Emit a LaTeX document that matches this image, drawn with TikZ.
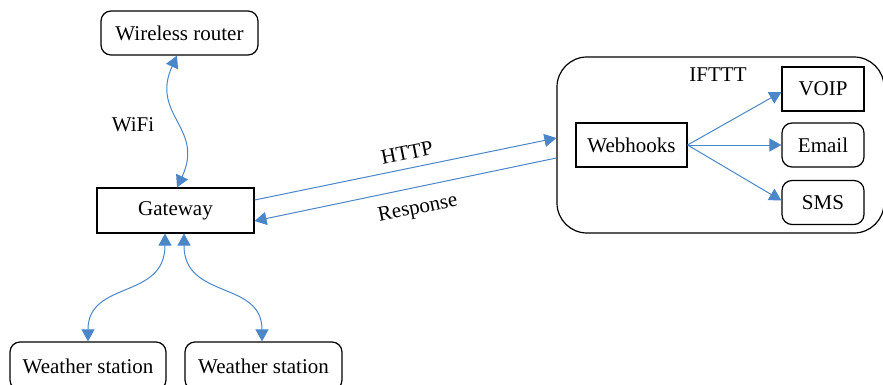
\documentclass[tikz,border=0pt]{standalone}
\usepackage{fontspec}
\setmainfont{Liberation Serif}
\usetikzlibrary{arrows.meta}
\definecolor{linkblue}{RGB}{74,134,200}
\begin{document}
\begin{tikzpicture}[x=0.5pt,y=-0.5pt,
  every node/.style={font=\fontsize{10.5pt}{12pt}\selectfont, inner sep=0pt},
  rbox/.style={draw, line width=0.6pt, rounded corners=5pt, minimum height=22pt},
  sbox/.style={draw, line width=0.55pt, minimum height=22pt},
  tip/.tip={Triangle[length=6pt,width=6.5pt]},
  link/.style={draw=linkblue, line width=0.5pt, -tip, color=linkblue},
  dlink/.style={draw=linkblue, line width=0.5pt, tip-tip, color=linkblue},
  lbl/.style={text=black}]
\useasboundingbox (0,0) rectangle (883,385);
% nodes
\node[rbox, minimum width=78.5pt] (router) at (179.5,33) {Wireless router};
\node[sbox, minimum width=78.5pt, minimum height=22.5pt] (gw) at (175.5,210.5) {Gateway};
\node[rbox, minimum width=78pt, minimum height=24pt] (ws1) at (88,366) {Weather station};
\node[rbox, minimum width=78.5pt, minimum height=24pt] (ws2) at (263.5,366) {Weather station};
\node[draw, line width=0.6pt, rounded corners=15pt, minimum width=163.5pt, minimum height=88pt] (ifttt) at (720.5,145) {};
\node[lbl] (iftttlbl) at (718,75) {IFTTT};
\node[sbox, minimum width=55.5pt] (wh) at (631.5,145) {Webhooks};
\node[sbox, minimum width=41pt] (voip) at (823,89) {VOIP};
\node[rbox, minimum width=41pt] (email) at (823,145) {Email};
\node[rbox, minimum width=41pt] (sms) at (823,202.5) {SMS};
% connectors
\draw[dlink] ([xshift=-1.25pt]router.south) .. controls (150,115) and (205,128) .. ([xshift=0.75pt]gw.north);
\node[lbl] (wifi) at (133,125) {WiFi};
\draw[dlink] ([xshift=-5.25pt]gw.south) .. controls (165,300) and (88,280) .. (ws1.north);
\draw[dlink] ([xshift=4.25pt]gw.south) .. controls (184,300) and (262,280) .. ([xshift=-0.75pt]ws2.north);
\draw[link] ([yshift=5.25pt]gw.east) -- ([yshift=3.5pt]ifttt.west);
\draw[link] ([yshift=-6.5pt]ifttt.west) -- ([yshift=-5.25pt]gw.east);
\node[lbl, rotate=11.5] (http) at (407,153) {HTTP};
\node[lbl, rotate=11.5] (resp) at (418,209) {Response};
\draw[link] (wh.east) -- ([yshift=-1.5pt]voip.west);
\draw[link] (wh.east) -- (email.west);
\draw[link] (wh.east) -- ([yshift=1pt]sms.west);
\end{tikzpicture}
\end{document}
